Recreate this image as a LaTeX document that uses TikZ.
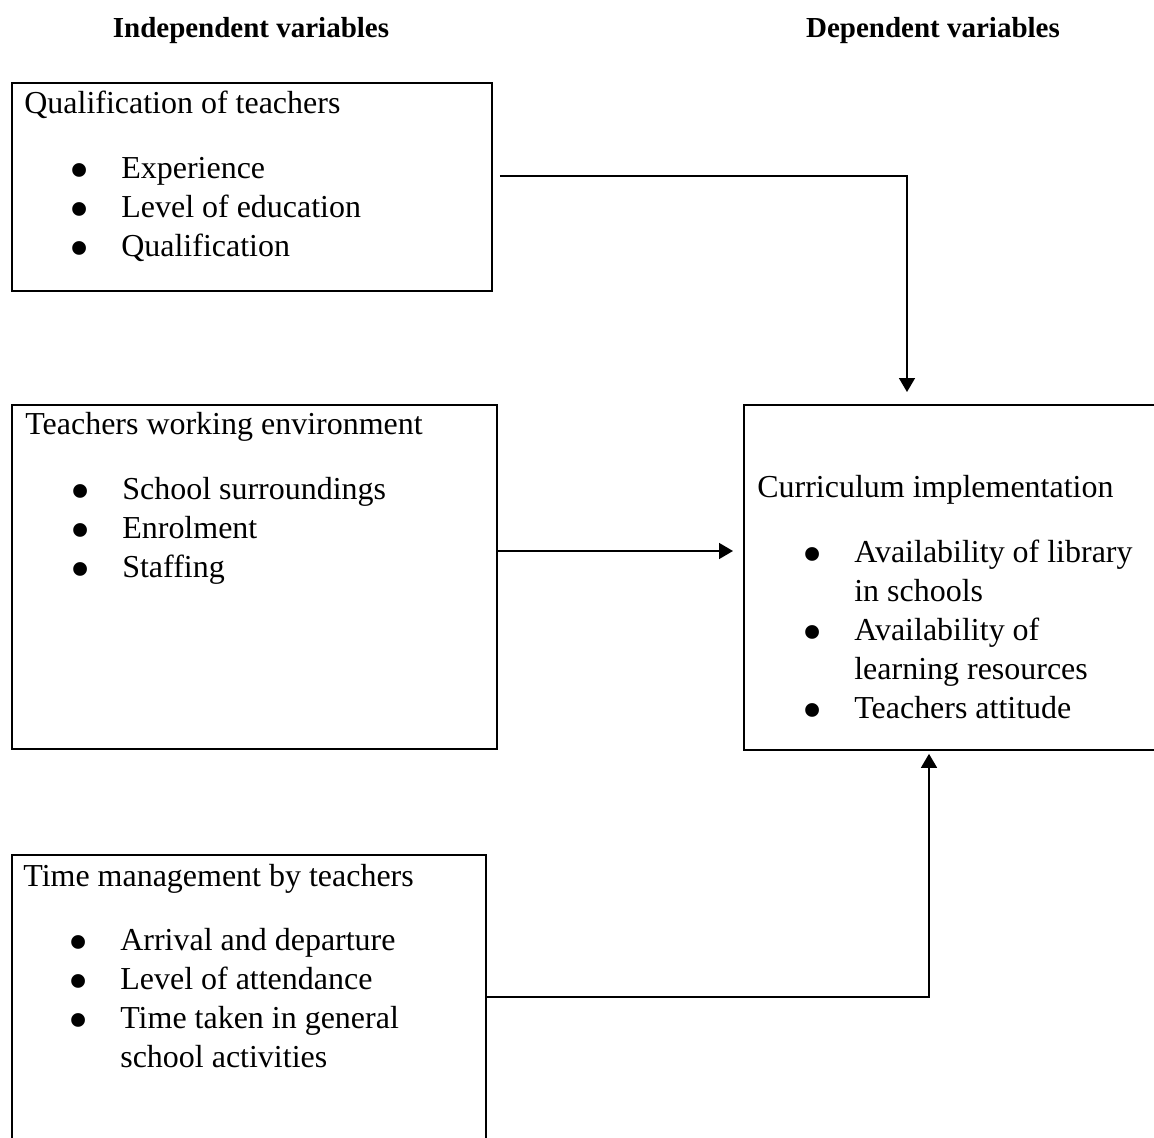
\documentclass[tikz,border=0pt]{standalone}
\usepackage{fontspec}
\setmainfont{Liberation Serif}
\usetikzlibrary{arrows.meta}
\newcommand\bul{\hspace*{0.91cm}\makebox[1.03cm][l]{\raisebox{-0.34em}{\scalebox{1.8}{\textbullet}}}}
\newcommand\cont{\hspace*{1.94cm}}
\tikzset{
 box/.style={draw,line width=1.1pt,inner sep=0pt,anchor=north west},
 txt/.style={anchor=base west,inner sep=0pt,font=\fontsize{18.2}{22.1}\selectfont},
 head/.style={anchor=base,inner sep=0pt,font=\fontsize{16.5}{22.1}\selectfont\bfseries},
 flow/.style={line width=0.9pt,-{Triangle[width=0.32cm,length=0.28cm]}}
}
\begin{document}
\begin{tikzpicture}[x=0.02cm,y=-0.02cm]
 \useasboundingbox (0,0) rectangle (1154,1138);
 \clip (0,0) rectangle (1154,1138);
 % headings
 \node[head] (indep) at (251,38) {Independent variables};
 \node[head] (dep) at (933,38) {Dependent variables};
 % boxes
 \node[box,minimum width=9.6cm,minimum height=4.16cm] (qual) at (11,82) {};
 \node[box,minimum width=9.7cm,minimum height=6.88cm] (env) at (11,404) {};
 \node[box,minimum width=9.48cm,minimum height=6.2cm] (time) at (11,854) {};
 \node[box,minimum width=8.9cm,minimum height=6.9cm] (cur) at (743,404) {};
 % texts
 \node[txt] (qualtxt) at (24,114) {\begin{tabular}[t]{@{}l@{}}Qualification of teachers\\[0.52cm]
  \bul Experience\\ \bul Level of education\\ \bul Qualification\end{tabular}};
 \node[txt] (envtxt) at (25,435) {\begin{tabular}[t]{@{}l@{}}Teachers working environment\\[0.52cm]
  \bul School surroundings\\ \bul Enrolment\\ \bul Staffing\end{tabular}};
 \node[txt] (timetxt) at (23,886) {\begin{tabular}[t]{@{}l@{}}Time management by teachers\\[0.52cm]
  \bul Arrival and departure\\ \bul Level of attendance\\ \bul Time taken in general\\
  \cont school activities\end{tabular}};
 \node[txt] (curtxt) at (757,498) {\begin{tabular}[t]{@{}l@{}}Curriculum implementation\\[0.52cm]
  \bul Availability of library\\ \cont in schools\\ \bul Availability of\\
  \cont learning resources\\ \bul Teachers attitude\end{tabular}};
 % connectors
 \draw[flow,shorten <=0.14cm,shorten >=0.24cm] (qual.east |- 0,176) -| (907,0 |- cur.north);
 \draw[flow,shorten >=0.2cm] (env.east |- 0,551) -- (cur.west |- 0,551);
 \draw[flow,shorten >=0.06cm] (time.east |- 0,997) -| (929,0 |- cur.south);
\end{tikzpicture}
\end{document}
